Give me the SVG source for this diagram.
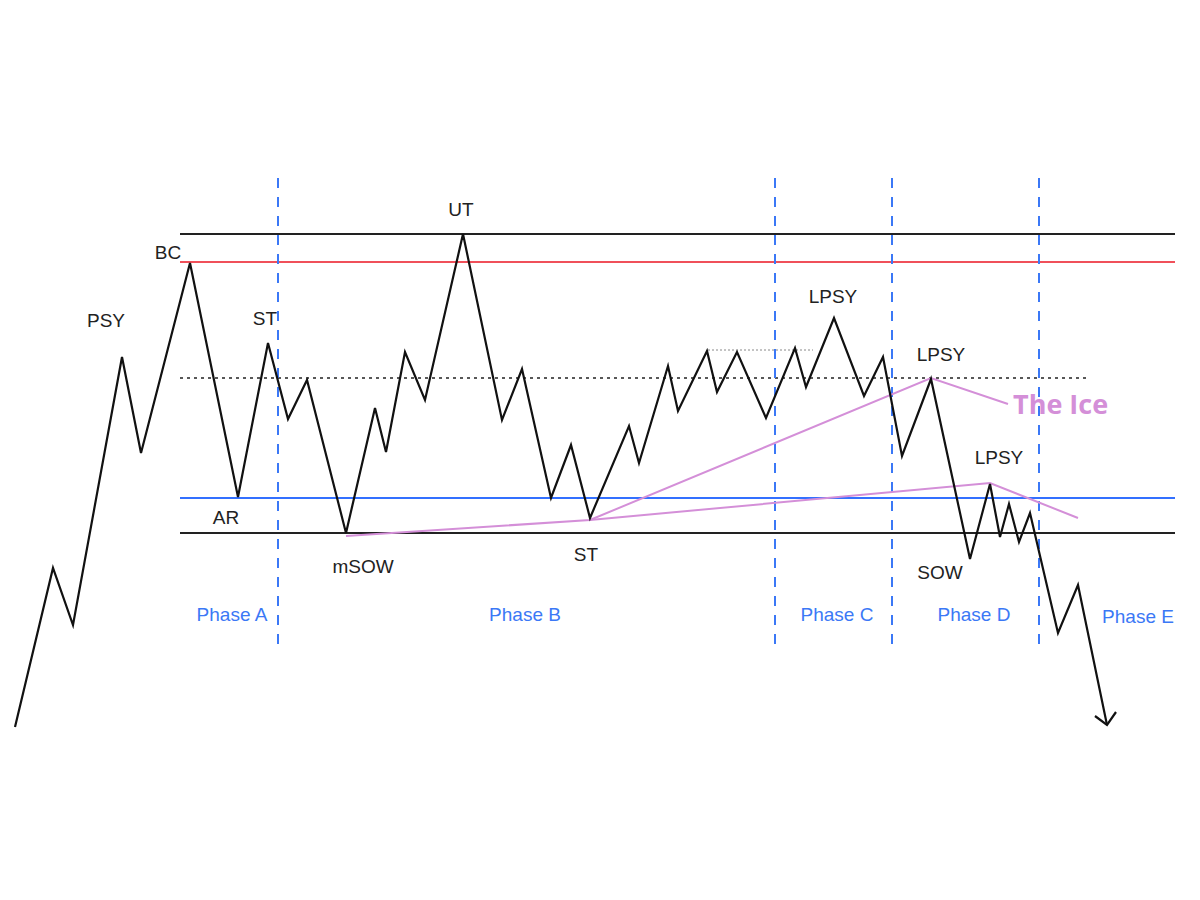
<svg xmlns="http://www.w3.org/2000/svg" width="1200" height="900" viewBox="0 0 1200 900">
<style>
.lbl{font-family:"Liberation Sans",Arial,sans-serif;font-size:19px;fill:#222;text-anchor:middle}
.ph{font-family:"Liberation Sans",Arial,sans-serif;font-size:19px;fill:#3b78f6;text-anchor:middle}
.ice{font-family:"Open Sans","Liberation Sans",sans-serif;font-size:27px;font-weight:bold;fill:#d48fd8}
.vd{stroke:#3b78f6;stroke-width:2;stroke-dasharray:10 9;fill:none}
.purple{stroke:#d48fd8;stroke-width:2;fill:none}
</style>
<rect width="1200" height="900" fill="#fff"/>
<g id="levels">
<line x1="180" y1="234" x2="1175" y2="234" stroke="#222" stroke-width="2"/>
<line x1="180" y1="262" x2="1175" y2="262" stroke="#f0505a" stroke-width="2"/>
<line x1="180" y1="378" x2="1087" y2="378" stroke="#222" stroke-width="1.5" stroke-dasharray="3 4"/>
<line x1="708" y1="350" x2="813" y2="350" stroke="#888" stroke-width="1" stroke-dasharray="2 2"/>
<line x1="180" y1="498" x2="1175" y2="498" stroke="#3370ff" stroke-width="2"/>
<line x1="180" y1="533" x2="1175" y2="533" stroke="#222" stroke-width="2"/>
</g>
<g id="phase-dividers">
<line class="vd" x1="278" y1="178" x2="278" y2="648"/>
<line class="vd" x1="775" y1="178" x2="775" y2="648"/>
<line class="vd" x1="892" y1="178" x2="892" y2="648"/>
<line class="vd" x1="1039" y1="178" x2="1039" y2="648"/>
</g>
<g id="trendlines">
<polyline class="purple" points="346,536 590,520 931,378 1008,404"/>
<polyline class="purple" points="590,520 990,483 1078,518"/>
</g>
<g id="price">
<polyline fill="none" stroke="#111" stroke-width="2.2" stroke-linejoin="miter" points="15,727 53,568 73,625 122,357 141,453 190,263 238,497 268,343 288,419 307,380 346,533 375,408 386,452 405,352 425,400 463,234 502,420 522,369 551,498 571,445 590,518 629,426 639,463 668,366 678,411 707,351 717,392 737,352 766,418 795,348 806,387 834,318 864,396 883,357 902,456 931,379 970,559 990,484 1000,537 1009,504 1019,542 1030,513 1058,633 1078,585 1107,725"/>
<polyline fill="none" stroke="#111" stroke-width="2.2" points="1095,716 1107,725 1116,712"/>
</g>
<g id="labels">
<text class="lbl" x="106" y="327">PSY</text>
<text class="lbl" x="168" y="259">BC</text>
<text class="lbl" x="265" y="325">ST</text>
<text class="lbl" x="226" y="524">AR</text>
<text class="lbl" x="461" y="216">UT</text>
<text class="lbl" x="363" y="573">mSOW</text>
<text class="lbl" x="586" y="561">ST</text>
<text class="lbl" x="833" y="303">LPSY</text>
<text class="lbl" x="941" y="361">LPSY</text>
<text class="lbl" x="999" y="464">LPSY</text>
<text class="lbl" x="940" y="579">SOW</text>
<text class="ice" x="1013" y="414">The Ice</text>
</g>
<g id="phases">
<text class="ph" x="232" y="621">Phase A</text>
<text class="ph" x="525" y="621">Phase B</text>
<text class="ph" x="837" y="621">Phase C</text>
<text class="ph" x="974" y="621">Phase D</text>
<text class="ph" x="1138" y="623">Phase E</text>
</g>
</svg>
